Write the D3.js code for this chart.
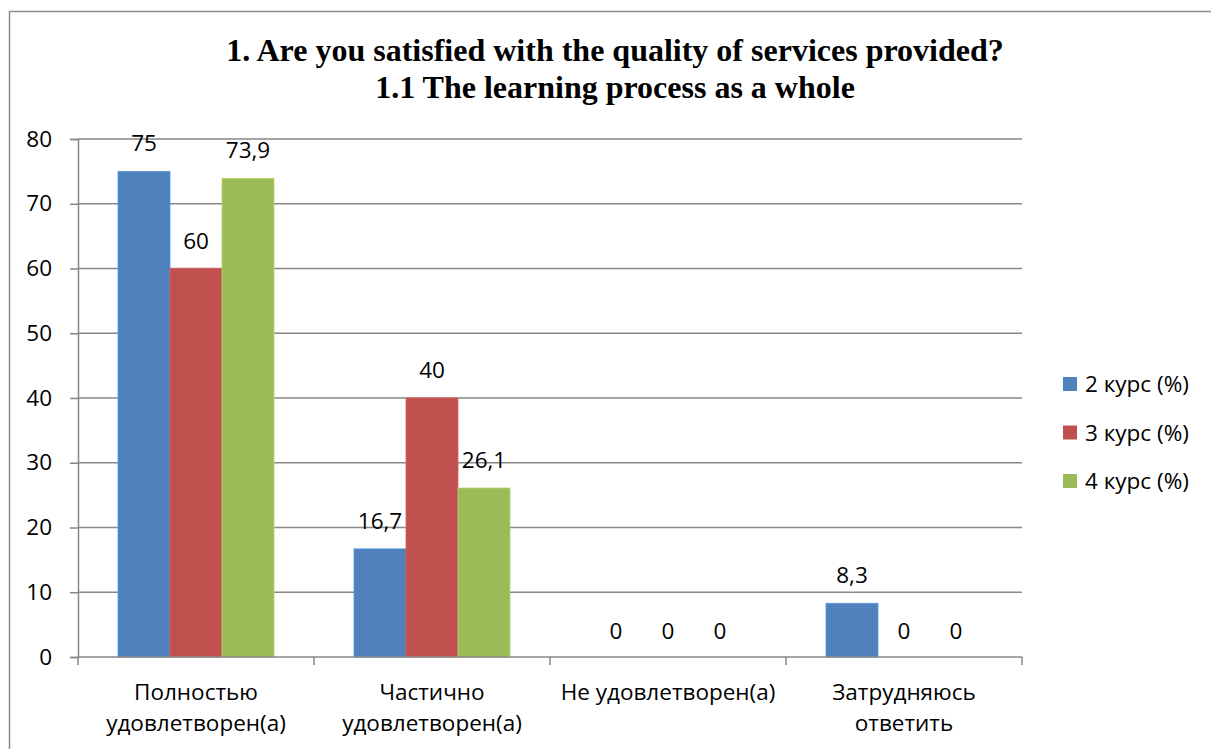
<!DOCTYPE html>
<html>
<head>
<meta charset="utf-8">
<script src="https://cdn.jsdelivr.net/npm/d3@7"></script>
<style>
  html, body { margin: 0; padding: 0; background: #fff; }
  svg { display: block; }
  .lbl { font-family: "Open Sans", "Noto Sans", sans-serif; fill: #000; }
</style>
</head>
<body>
<svg id="chart" width="1211" height="749"></svg>
<script>
const titleLines = ["1. Are you satisfied with the quality of services provided?", "1.1 The learning process as a whole"];
const categories = ["Полностью\nудовлетворен(а)", "Частично\nудовлетворен(а)", "Не удовлетворен(а)", "Затрудняюсь\nответить"];
const seriesNames = ["2 курс (%)", "3 курс (%)", "4 курс (%)"];
const seriesColors = ["#4F81BD", "#C0504D", "#9BBB59"];
const values2 = [75, 16.7, 0, 8.3];
const values3 = [60, 40, 0, 0];
const values4 = [73.9, 26.1, 0, 0];
const yTicks = [0, 10, 20, 30, 40, 50, 60, 70, 80];

const seriesValues = [values2, values3, values4];
const svg = d3.select("#chart");
const fs = 22.5;

// outer chart border
svg.append("rect").attr("x", 9.5).attr("y", 11.5).attr("width", 1210).attr("height", 760)
  .attr("fill", "none").attr("stroke", "#8c8c8c").attr("stroke-width", 1.5);

// title
const title = svg.append("text").attr("text-anchor", "middle")
  .attr("font-family", "'Liberation Serif', 'Times New Roman', serif")
  .attr("font-weight", "bold").attr("font-size", 32).attr("fill", "#000");
titleLines.forEach((t, i) => {
  title.append("tspan").attr("x", 615).attr("y", 61 + i * 37).text(t);
});

const pLeft = 78, pRight = 1022, pTop = 139, pBottom = 657;
const x0 = d3.scaleBand().domain(d3.range(categories.length)).range([pLeft, pRight]).paddingInner(0).paddingOuter(0);
const x1 = d3.scaleBand().domain(d3.range(seriesNames.length)).range([40, x0.bandwidth() - 40]).padding(0);
const y = d3.scaleLinear().domain([0, 80]).range([pBottom, pTop]);

// gridlines
svg.append("g").selectAll("line").data(yTicks.filter(d => d > 0)).join("line")
  .attr("x1", pLeft).attr("x2", pRight)
  .attr("y1", d => y(d)).attr("y2", d => y(d))
  .attr("stroke", "#878787").attr("stroke-width", 1.5);

// y axis
const yAxis = svg.append("g").attr("transform", `translate(${pLeft},0)`)
  .call(d3.axisLeft(y).tickValues(yTicks).tickSize(8).tickPadding(18).tickFormat(d3.format("d")));
yAxis.select(".domain").attr("stroke", "#878787").attr("stroke-width", 1.5);
yAxis.selectAll(".tick line").attr("stroke", "#878787").attr("stroke-width", 1.5);
yAxis.selectAll(".tick text").attr("class", "lbl").attr("font-size", fs).attr("fill", "#000");

// bars
const groups = svg.append("g").selectAll("g").data(categories).join("g")
  .attr("transform", (d, i) => `translate(${x0(i)},0)`);
groups.each(function (c, ci) {
  const g = d3.select(this);
  seriesValues.forEach((vals, si) => {
    const v = vals[ci];
    if (v > 0) {
      g.append("rect")
        .attr("x", x1(si)).attr("width", x1.bandwidth())
        .attr("y", y(v)).attr("height", y(0) - y(v))
        .attr("fill", seriesColors[si])
        .attr("stroke", d3.color(seriesColors[si]).brighter(0.4)).attr("stroke-width", 0.8);
    }
    g.append("text").attr("class", "lbl").attr("font-size", fs)
      .attr("text-anchor", "middle")
      .attr("x", x1(si) + x1.bandwidth() / 2)
      .attr("y", y(v) - (v > 0 ? 20 : 18))
      .text(String(v).replace(".", ","));
  });
});

// x axis
const xAxis = svg.append("g").attr("transform", `translate(0,${pBottom})`);
xAxis.append("line").attr("x1", pLeft).attr("x2", pRight).attr("y1", 0).attr("y2", 0)
  .attr("stroke", "#878787").attr("stroke-width", 1.5);
const bounds = d3.range(categories.length + 1).map(i => i < categories.length ? x0(i) : pRight);
xAxis.selectAll("line.tk").data(bounds).join("line").attr("class", "tk")
  .attr("x1", d => d).attr("x2", d => d).attr("y1", 0).attr("y2", 8)
  .attr("stroke", "#878787").attr("stroke-width", 1.5);
categories.forEach((c, i) => {
  const t = xAxis.append("text").attr("class", "lbl").attr("font-size", fs).attr("text-anchor", "middle");
  c.split("\n").forEach((line, li) => {
    t.append("tspan").attr("x", x0(i) + x0.bandwidth() / 2).attr("y", 43 + li * 31).text(line);
  });
});

// legend
const legend = svg.append("g").attr("transform", "translate(1063,377)");
seriesNames.forEach((n, i) => {
  const row = legend.append("g").attr("transform", `translate(0,${i * 48.5})`);
  row.append("rect").attr("width", 14).attr("height", 14).attr("fill", seriesColors[i]);
  row.append("text").attr("class", "lbl").attr("font-size", fs).attr("x", 22).attr("y", 15).text(n);
});
</script>
</body>
</html>
